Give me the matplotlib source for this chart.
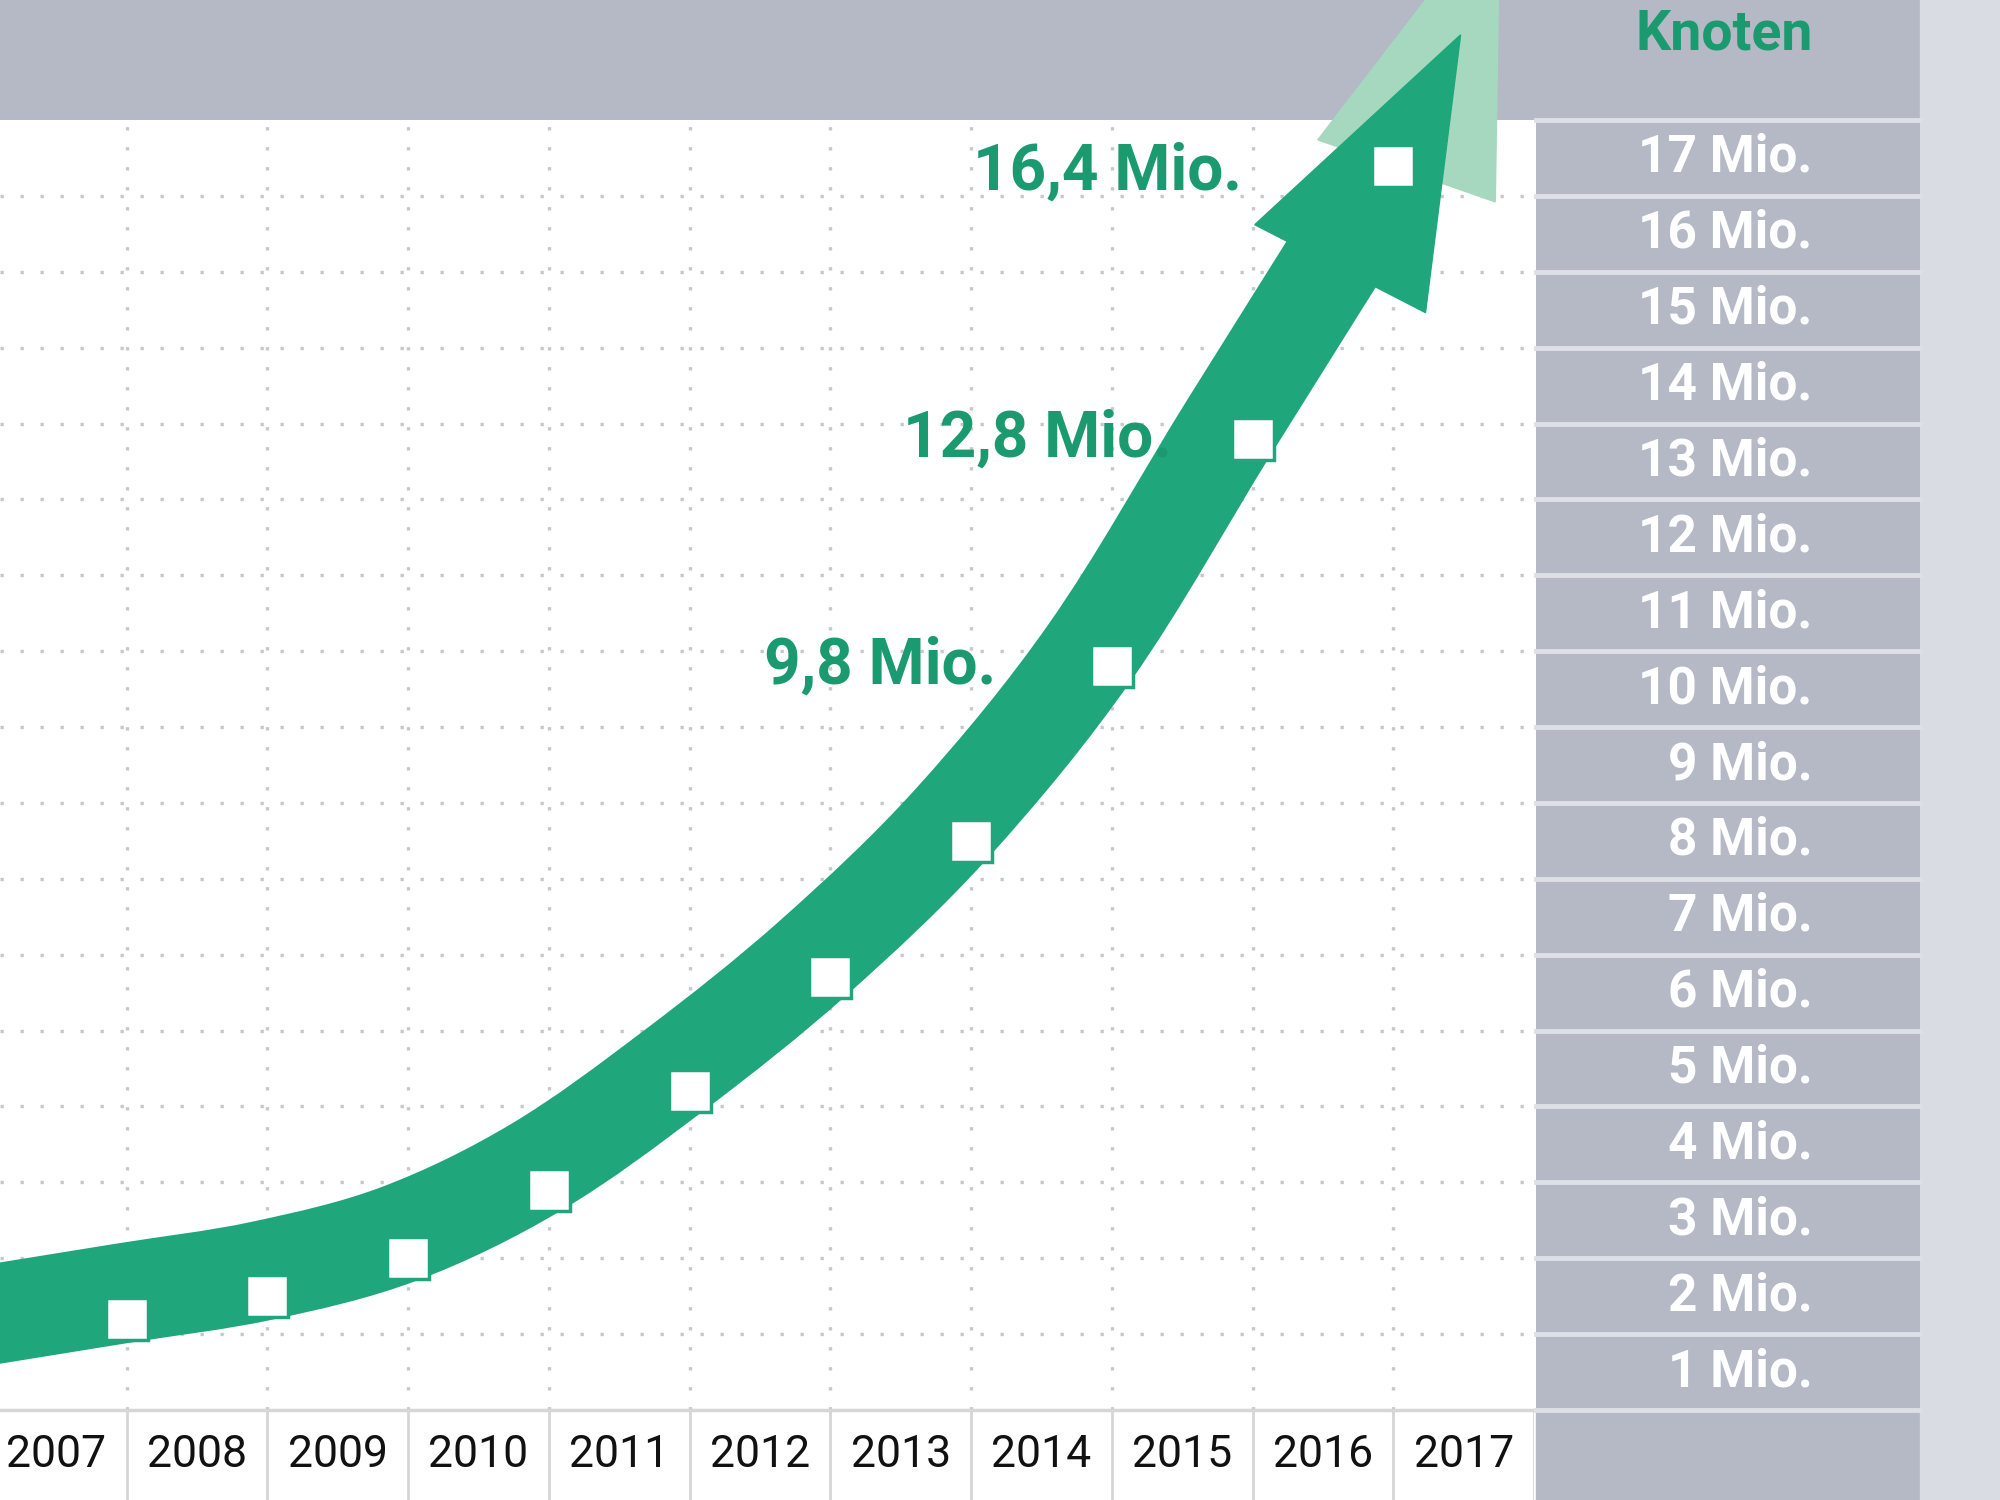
import matplotlib.pyplot as plt
import numpy as np
from matplotlib.patches import Polygon, Rectangle, PathPatch
from matplotlib.path import Path

plt.rcParams['font.family'] = ['Roboto', 'DejaVu Sans']

# data
years = ['2007', '2008', '2009', '2010', '2011', '2012', '2013', '2014', '2015', '2016', '2017']
knoten = [1.2, 1.5, 2.0, 2.9, 4.2, 5.7, 7.5, 9.8, 12.8, 16.4]   # Mio. Knoten, Jahresende 2007..2016
value_labels = {7: '9,8 Mio.', 8: '12,8 Mio.', 9: '16,4 Mio.'}
scale_labels = ['%d Mio.' % k for k in range(1, 18)]
header_text = 'Knoten'

green = '#1fa67b'
light_green = '#a6d8c0'
text_green = '#1b9a70'
panel_gray = '#b4b9c5'
sep_gray = '#dde0e6'

fig = plt.figure(figsize=(20, 15), dpi=100)

# background pieces
fig.add_artist(Rectangle((0, 0.92), 0.96, 0.08, transform=fig.transFigure, color=panel_gray, zorder=-1))
fig.add_artist(Rectangle((0.768, 0), 0.192, 0.06, transform=fig.transFigure, color=panel_gray, zorder=-1))
fig.add_artist(Rectangle((0.96, 0), 0.04, 1, transform=fig.transFigure, color='#d9dce3', zorder=-1))

# main plot
ax = fig.add_axes([0, 0.06, 0.767, 0.86])
ax.set_xlim(-0.4, 10.5)
ax.set_ylim(0, 17)
for s in ['top', 'left', 'right']:
    ax.spines[s].set_visible(False)
ax.spines['bottom'].set_color('#d6d6d6')
ax.spines['bottom'].set_linewidth(2.5)
ax.set_xticks([])
ax.set_yticks([])

for k in range(1, 17):
    ax.axhline(k, color='#c8c8c8', lw=2.4, ls=(0, (1, 5)), zorder=1)
for i in range(len(years) - 1):
    ax.axvline(i + 0.5, color='#c8c8c8', lw=2.4, ls=(0, (1, 5)), zorder=1)

xs = np.arange(len(knoten)) + 0.5
ys = np.array(knoten)
inv = ax.transData.inverted()

# thick band: runs a little up/left of the data, centred on the arrow at the top,
# with a tail back to the left edge (built in pixel space)
bx = np.r_[xs[0] - 1, xs]
by = np.r_[ys[0] - (ys[1] - ys[0]), ys]
pix = ax.transData.transform(np.column_stack([bx, by]))
tg = np.column_stack([np.gradient(pix[:, 0]), np.gradient(pix[:, 1])])
tg /= np.hypot(tg[:, 0], tg[:, 1])[:, None]
nrm = np.column_stack([-tg[:, 1], tg[:, 0]])
push = np.full(len(pix), 26.0)
push[-1] = 0
P = pix + nrm * push[:, None]

# bezier through the pushed points, tangent length scaled per segment
prev = np.vstack([P[0], P[:-1]])
nxt = np.vstack([P[1:], P[-1]])
u = nxt - prev
u /= np.hypot(u[:, 0], u[:, 1])[:, None]
verts = [P[0]]
codes = [Path.MOVETO]
for i in range(len(P) - 1):
    L = np.hypot(*(P[i + 1] - P[i])) / 3
    verts += [P[i] + u[i] * L, P[i + 1] - u[i + 1] * L, P[i + 1]]
    codes += [Path.CURVE4] * 3
verts = inv.transform(np.array(verts))
ax.add_patch(PathPatch(Path(verts, codes), fill=False, edgecolor=green, lw=72,
                       capstyle='butt', joinstyle='round', zorder=3, clip_on=False))

# arrow heads, built in pixel space from the last segment
p8 = ax.transData.transform((xs[-2], ys[-2]))
p9 = ax.transData.transform((xs[-1], ys[-1]))
d = (p9 - p8) / np.hypot(*(p9 - p8))
n = np.array([-d[1], d[0]])
tip = p9 + d * 147
base = tip - d * 263

a = np.radians(8)
d2 = np.array([d[0] * np.cos(a) - d[1] * np.sin(a), d[0] * np.sin(a) + d[1] * np.cos(a)])
n2 = np.array([-d2[1], d2[0]])
base2 = base + d * 110 + np.array([16, 0])
tip2 = base2 + d2 * 283
light = [tip2, base2 + n2 * 94, base2 - n2 * 94]
ax.add_patch(Polygon(inv.transform(light), closed=True, color=light_green, zorder=2.5, clip_on=False))

head = [tip, base + n * 96, base - n * 96]
ax.add_patch(Polygon(inv.transform(head), closed=True, color=green, zorder=4, clip_on=False))

ax.plot(xs, ys, ls='none', marker='s', ms=30, mfc='white', mec=green, mew=2.5, zorder=5, clip_on=False)

label_offsets = {7: (-83, 0), 8: (-58, 0), 9: (-109, -5)}
for i, txt in value_labels.items():
    ax.annotate(txt, (xs[i], ys[i]), xytext=label_offsets[i], textcoords='offset points',
                ha='right', va='center', fontsize=46, fontweight='bold', color=text_green, zorder=6)

# year row
axb = fig.add_axes([0, 0, 0.767, 0.06])
axb.set_xlim(-0.4, 10.5)
axb.set_ylim(0, 1)
axb.axis('off')
for i in range(len(years)):
    axb.axvline(i + 0.5, color='#d6d6d6', lw=2)
    axb.text(i, 0.5, years[i], ha='center', va='center', fontsize=32, color='#111111')

# right scale panel
axp = fig.add_axes([0.768, 0.06, 0.192, 0.86])
axp.set_facecolor(panel_gray)
axp.set_xlim(0, 1)
axp.set_ylim(0, 17)
axp.set_xticks([])
axp.set_yticks([])
for s in axp.spines.values():
    s.set_visible(False)
for k in range(0, 18):
    axp.axhline(k, color=sep_gray, lw=3.5, clip_on=False)
for k, lab in enumerate(scale_labels, start=1):
    axp.text(0.72, k - 0.5, lab, ha='right', va='center', fontsize=37, fontweight='bold', color='white')

fig.text(0.862, 0.977, header_text, ha='center', va='center', fontsize=40, fontweight='bold', color=text_green)

fig.savefig('out.png', dpi=100)
